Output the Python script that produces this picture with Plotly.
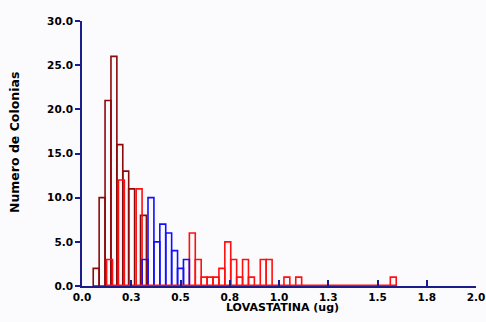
import plotly.graph_objects as go

# ---- data ----
bin_width = 0.03

maroon_x = [0.072, 0.102, 0.132, 0.162, 0.192, 0.222, 0.252, 0.282, 0.312]
maroon_y = [2, 10, 21, 26, 16, 13, 11, 0, 8]

red_x = [0.14, 0.17, 0.20, 0.23, 0.26, 0.29, 0.32, 0.35, 0.38, 0.41, 0.44, 0.47,
         0.50, 0.53, 0.56, 0.59, 0.62, 0.65, 0.68, 0.71, 0.74, 0.77, 0.80, 0.83,
         0.86, 0.89, 0.92, 0.95, 0.98, 1.01, 1.04, 1.07, 1.10, 1.13, 1.16, 1.19,
         1.22, 1.25, 1.28, 1.31, 1.34, 1.37, 1.40, 1.43, 1.46, 1.49, 1.52, 1.55, 1.58]
red_y = [3, 0, 12, 0, 0, 11, 0, 0, 0, 0, 0, 0,
         0, 0, 6, 3, 1, 1, 1, 2, 5, 3, 1, 3,
         1, 0, 3, 3, 0, 0, 1, 0, 1, 0, 0, 0,
         0, 0, 0, 0, 0, 0, 0, 0, 0, 0, 0, 0, 1]

blue_x = [0.32, 0.35, 0.38, 0.41, 0.44, 0.47, 0.50, 0.53]
blue_y = [3, 10, 5, 7, 6, 4, 2, 3]

x_tickvals = [0.0, 0.25, 0.5, 0.75, 1.0, 1.25, 1.5, 1.75, 2.0]
x_ticktext = ["0.0", "0.3", "0.5", "0.8", "1.0", "1.3", "1.5", "1.8", "2.0"]
y_tickvals = [0, 5, 10, 15, 20, 25, 30]
y_ticktext = ["0.0", "5.0", "10.0", "15.0", "20.0", "25.0", "30.0"]

MAROON = "#8b0a0a"
RED = "#ff1010"
BLUE = "#1010ff"
NAVY = "#1c1c8c"
FONT = "DejaVu Sans"
BG = "#fbfbfd"

fig = go.Figure()


def add_hist(xs, ys, color):
    fig.add_trace(go.Bar(
        x=xs, y=ys, width=bin_width,
        marker=dict(color="rgba(0,0,0,0)", line=dict(color=color, width=1.6)),
        showlegend=False, hoverinfo="x+y",
    ))


add_hist(maroon_x, maroon_y, MAROON)
add_hist(red_x, red_y, RED)
add_hist(blue_x, blue_y, BLUE)

# red baseline along the red bins' extent
fig.add_trace(go.Scatter(
    x=[min(red_x) - bin_width / 2, max(red_x) + bin_width / 2], y=[0, 0],
    mode="lines", line=dict(color=RED, width=3), cliponaxis=False,
    showlegend=False, hoverinfo="skip",
))

fig.update_layout(
    width=486, height=322,
    margin=dict(l=82, r=10, t=21, b=36),
    paper_bgcolor=BG, plot_bgcolor=BG,
    barmode="overlay",
    font=dict(family=FONT, color="black"),
    xaxis=dict(
        range=[0, 2.0], tickvals=x_tickvals, ticktext=x_ticktext, automargin=False,
        showgrid=False, zeroline=False, showline=True, linecolor=NAVY, linewidth=1.8,
        ticks="inside", ticklen=6, tickwidth=1.8, tickcolor=NAVY,
        tickfont=dict(family=FONT, size=10.5, weight="bold", color="black"),
    ),
    yaxis=dict(
        range=[0, 30], tickvals=y_tickvals, ticktext=y_ticktext, automargin=False,
        showgrid=False, zeroline=False, showline=True, linecolor=NAVY, linewidth=1.8,
        ticks="outside", ticklen=5, tickwidth=1.8, tickcolor=NAVY,
        tickfont=dict(family=FONT, size=10.5, weight="bold", color="black"),
    ),
    annotations=[
        dict(text="LOVASTATINA (ug)", xref="paper", yref="paper", x=0.5095, y=-0.082,
             xanchor="center", yanchor="middle", showarrow=False,
             font=dict(family=FONT, size=11, weight="bold", color="black")),
        dict(text="Numero de Colonias", xref="paper", yref="paper", x=-0.1715, y=0.541,
             xanchor="center", yanchor="middle", textangle=-90, showarrow=False,
             font=dict(family=FONT, size=12.5, weight="bold", color="black")),
    ],
)

# remove the default page margin so the 486x322 figure fills the window exactly
fig.write_html(
    "out.html",
    config={"displayModeBar": False},
    post_script="document.body.style.margin='0';document.body.style.overflow='hidden';",
)
